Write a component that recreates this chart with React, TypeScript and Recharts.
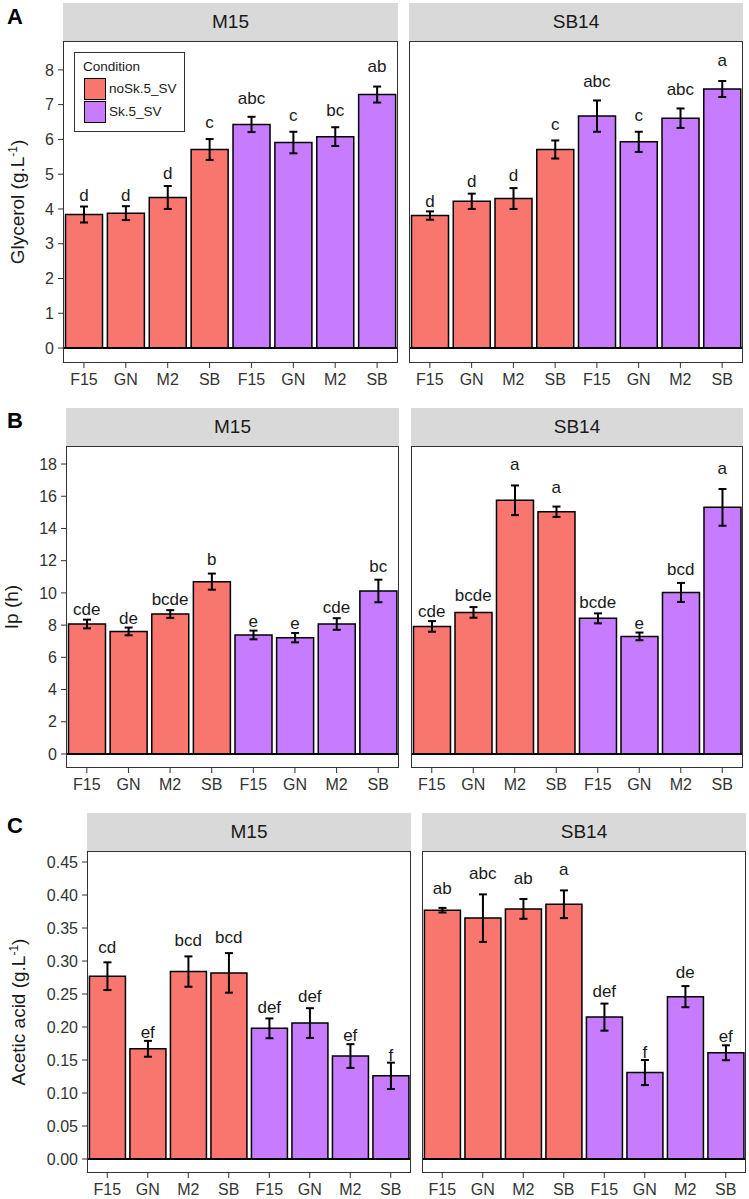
import React from "react";
import {
  Bar,
  Cell,
  ComposedChart,
  ErrorBar,
  LabelList,
  Line,
  ReferenceLine,
  XAxis,
  YAxis,
} from "recharts";

const sites = ["F15", "GN", "M2", "SB", "F15", "GN", "M2", "SB"];
const conditions = [
  "noSk.5_SV", "noSk.5_SV", "noSk.5_SV", "noSk.5_SV",
  "Sk.5_SV", "Sk.5_SV", "Sk.5_SV", "Sk.5_SV",
];
const conditionColors: Record<string, string> = {
  "noSk.5_SV": "#F8766D",
  "Sk.5_SV": "#C77CFF",
};

// Glycerol (g.L-1)
const glycerolM15 = [3.84, 3.88, 4.33, 5.71, 6.43, 5.91, 6.08, 7.29];
const glycerolM15Se = [0.23, 0.2, 0.33, 0.3, 0.22, 0.31, 0.27, 0.23];
const glycerolM15Groups = ["d", "d", "d", "c", "abc", "c", "bc", "ab"];
const glycerolSB14 = [3.81, 4.22, 4.3, 5.71, 6.67, 5.93, 6.61, 7.45];
const glycerolSB14Se = [0.12, 0.22, 0.3, 0.26, 0.45, 0.29, 0.28, 0.23];
const glycerolSB14Groups = ["d", "d", "d", "c", "abc", "c", "abc", "a"];
const glycerolTicks = [0, 1, 2, 3, 4, 5, 6, 7, 8];

// Ip (h)
const ipM15 = [8.07, 7.61, 8.69, 10.7, 7.39, 7.22, 8.07, 10.12];
const ipM15Se = [0.27, 0.24, 0.24, 0.5, 0.27, 0.29, 0.36, 0.7];
const ipM15Groups = ["cde", "de", "bcde", "b", "e", "e", "cde", "bc"];
const ipSB14 = [7.92, 8.79, 15.75, 15.04, 8.42, 7.3, 10.03, 15.31];
const ipSB14Se = [0.33, 0.33, 0.92, 0.32, 0.31, 0.24, 0.59, 1.14];
const ipSB14Groups = ["cde", "bcde", "a", "a", "bcde", "e", "bcd", "a"];
const ipTicks = [0, 2, 4, 6, 8, 10, 12, 14, 16, 18];

// Acetic acid (g.L-1)
const aceticM15 = [0.277, 0.167, 0.284, 0.282, 0.198, 0.206, 0.156, 0.126];
const aceticM15Se = [0.021, 0.012, 0.023, 0.03, 0.015, 0.0225, 0.018, 0.02];
const aceticM15Groups = ["cd", "ef", "bcd", "bcd", "def", "def", "ef", "f"];
const aceticSB14 = [0.377, 0.365, 0.379, 0.386, 0.215, 0.131, 0.246, 0.161];
const aceticSB14Se = [0.0035, 0.036, 0.015, 0.021, 0.0205, 0.019, 0.016, 0.0113];
const aceticSB14Groups = ["ab", "abc", "ab", "a", "def", "f", "de", "ef"];
const aceticTicks = [0, 0.05, 0.1, 0.15, 0.2, 0.25, 0.3, 0.35, 0.4, 0.45];

const FONT = "'Liberation Sans', Arial, Helvetica, sans-serif";
const PLOT_H = 322;
const STRIP_H = 38;
const AXIS_H = 36;

type PanelProps = {
  title: string;
  values: number[];
  se: number[];
  groups: string[];
  domain: [number, number];
  ticks: number[];
  fmt: (v: number) => string;
  left: number;
  width: number;
  top: number;
  withAxis: boolean;
};

function buildRows(values: number[], se: number[], groups: string[]) {
  return sites.map((s, i) => ({
    key: `${s}-${i}`,
    cond: conditions[i],
    v: values[i],
    e: se[i],
    g: groups[i],
  }));
}

function LetterLabel(props: any) {
  const x = props.x ?? props.viewBox?.x;
  const y = props.y ?? props.viewBox?.y;
  if (x == null || y == null) return null;
  return (
    <text x={x} y={y} dy="0.36em" textAnchor="middle" fontSize={17} fill="#1a1a1a">
      {props.value}
    </text>
  );
}

function Panel(p: PanelProps) {
  const data = buildRows(p.values, p.se, p.groups);
  const chartLeft = p.withAxis ? 0 : p.left;
  const chartWidth = p.withAxis ? p.left + p.width : p.width;
  return (
    <>
      <div
        style={{
          position: "absolute",
          left: p.left,
          top: p.top - STRIP_H,
          width: p.width,
          height: STRIP_H,
          background: "#d9d9d9",
          color: "#1a1a1a",
          fontSize: 19,
          lineHeight: `${STRIP_H}px`,
          textAlign: "center",
        }}
      >
        {p.title}
      </div>
      <div style={{ position: "absolute", left: chartLeft, top: p.top }}>
        <ComposedChart
          width={chartWidth}
          height={PLOT_H + AXIS_H}
          data={data}
          margin={{ top: 0, right: 0, bottom: 0, left: 0 }}
          barCategoryGap="6%"
        >
          <XAxis
            dataKey="key"
            type="category"
            interval={0}
            height={AXIS_H}
            axisLine={false}
            tickLine={{ stroke: "#333" }}
            tickSize={5}
            tickMargin={6}
            tick={{ fill: "#333", fontSize: 16 }}
            tickFormatter={(k: string) => String(k).split("-")[0]}
          />
          <YAxis
            type="number"
            domain={p.domain}
            ticks={p.ticks}
            allowDataOverflow
            hide={!p.withAxis}
            width={p.left}
            axisLine={false}
            tickLine={{ stroke: "#333" }}
            tickSize={5}
            tickMargin={4}
            tick={{ fill: "#333", fontSize: 16 }}
            tickFormatter={p.fmt}
          />
          <Bar dataKey="v" stroke="#000" strokeWidth={1.5} isAnimationActive={false}>
            {data.map((d) => (
              <Cell key={d.key} fill={conditionColors[d.cond]} />
            ))}
            <ErrorBar dataKey="e" width={4} strokeWidth={2} stroke="#000" />
          </Bar>
          <ReferenceLine y={0} stroke="#000" strokeWidth={2} />
          <Line
            dataKey={(d: any) => (d.v + d.e) * 1.08}
            stroke="none"
            dot={false}
            activeDot={false}
            legendType="none"
            isAnimationActive={false}
          >
            <LabelList dataKey="g" content={LetterLabel} />
          </Line>
        </ComposedChart>
      </div>
      <div
        style={{
          position: "absolute",
          left: p.left,
          top: p.top,
          width: p.width,
          height: PLOT_H,
          border: "1px solid #333",
          boxSizing: "border-box",
          pointerEvents: "none",
        }}
      />
    </>
  );
}

function Legend() {
  return (
    <div
      style={{
        position: "absolute",
        left: 74,
        top: 52,
        width: 111,
        height: 80,
        border: "1px solid #333",
        boxSizing: "border-box",
        background: "#fff",
        fontSize: 13.5,
        color: "#1a1a1a",
      }}
    >
      <div style={{ position: "absolute", left: 8, top: 6 }}>Condition</div>
      {["noSk.5_SV", "Sk.5_SV"].map((c, i) => (
        <React.Fragment key={c}>
          <div
            style={{
              position: "absolute",
              left: 9,
              top: 25 + i * 23,
              width: 22,
              height: 22,
              background: conditionColors[c],
              border: "1.5px solid #000",
              boxSizing: "border-box",
            }}
          />
          <div style={{ position: "absolute", left: 34, top: 28 + i * 23 }}>{c}</div>
        </React.Fragment>
      ))}
    </div>
  );
}

function YTitle({ x, y, text, unit }: { x: number; y: number; text: string; unit: boolean }) {
  return (
    <text transform={`translate(${x},${y}) rotate(-90)`} textAnchor="middle" fontSize={19} fill="#1a1a1a">
      {unit ? (
        <>
          <tspan>{text} (g.L</tspan>
          <tspan dy={-7} fontSize={12}>-1</tspan>
          <tspan dy={7}>)</tspan>
        </>
      ) : (
        text
      )}
    </text>
  );
}

const fmtInt = (v: number) => String(v);
const fmt2 = (v: number) => v.toFixed(2);

export default function App() {
  return (
    <div
      style={{
        position: "absolute",
        left: 0,
        top: 0,
        width: 749,
        height: 1199,
        background: "#fff",
        fontFamily: FONT,
        overflow: "hidden",
      }}
    >
      <Panel title="M15" values={glycerolM15} se={glycerolM15Se} groups={glycerolM15Groups}
        domain={[-0.43, 8.83]} ticks={glycerolTicks} fmt={fmtInt} left={63} width={335} top={41} withAxis />
      <Panel title="SB14" values={glycerolSB14} se={glycerolSB14Se} groups={glycerolSB14Groups}
        domain={[-0.43, 8.83]} ticks={glycerolTicks} fmt={fmtInt} left={409} width={334} top={41} withAxis={false} />
      <Legend />

      <Panel title="M15" values={ipM15} se={ipM15Se} groups={ipM15Groups}
        domain={[-0.87, 19.12]} ticks={ipTicks} fmt={fmtInt} left={66} width={333} top={446} withAxis />
      <Panel title="SB14" values={ipSB14} se={ipSB14Se} groups={ipSB14Groups}
        domain={[-0.87, 19.12]} ticks={ipTicks} fmt={fmtInt} left={411} width={332} top={446} withAxis={false} />

      <Panel title="M15" values={aceticM15} se={aceticM15Se} groups={aceticM15Groups}
        domain={[-0.0212, 0.4667]} ticks={aceticTicks} fmt={fmt2} left={87} width={324} top={851} withAxis />
      <Panel title="SB14" values={aceticSB14} se={aceticSB14Se} groups={aceticSB14Groups}
        domain={[-0.0212, 0.4667]} ticks={aceticTicks} fmt={fmt2} left={422} width={324} top={851} withAxis={false} />

      <svg width={749} height={1199} style={{ position: "absolute", left: 0, top: 0, pointerEvents: "none" }}>
        <text x={7} y={24} fontSize={22} fontWeight="bold" fill="#000">A</text>
        <text x={7} y={428} fontSize={22} fontWeight="bold" fill="#000">B</text>
        <text x={7} y={833} fontSize={22} fontWeight="bold" fill="#000">C</text>
        <YTitle x={24} y={202} text="Glycerol" unit />
        <YTitle x={18} y={607} text="Ip (h)" unit={false} />
        <YTitle x={25} y={1012} text="Acetic acid" unit />
      </svg>
    </div>
  );
}
